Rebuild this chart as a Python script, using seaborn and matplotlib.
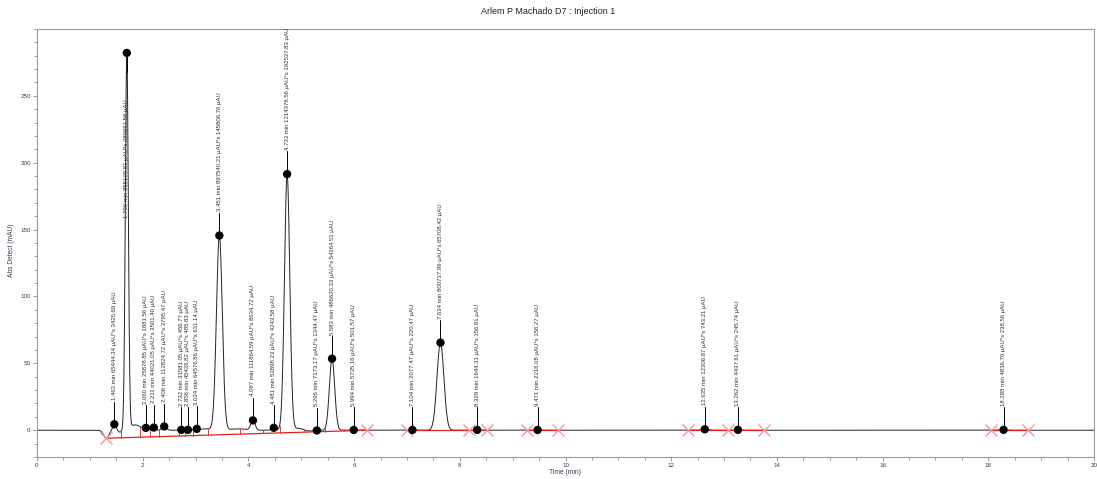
"""
Chromatogram: Arlem P Machado D7, injection 1
"""

import matplotlib
matplotlib.use("Agg")
import matplotlib.pyplot as plt
from matplotlib.ticker import MultipleLocator
import seaborn as sns
import numpy as np
import pandas as pd

# peaks: retention time (min), apex height (mAU), width (sigma, min)
peak_rt = [1.463, 1.700, 2.060, 2.211, 2.408, 2.732, 2.856, 3.024, 3.451, 4.087, 4.481,
           4.733, 5.296, 5.583, 5.994, 7.104, 7.634, 8.329, 9.471, 12.635, 13.262, 18.288]
peak_h = [4.5, 281.0, 1.2, 2.0, 2.8, 0.3, 0.3, 0.8, 145.5, 7.2, 1.8,
          191.5, 0.0, 53.5, 0.2, 0.2, 65.5, 0.2, 0.2, 0.7, 0.3, 0.3]
peak_w = [0.03, 0.028, 0.035, 0.035, 0.04, 0.035, 0.035, 0.04, 0.055, 0.04, 0.04,
          0.05, 0.05, 0.05, 0.05, 0.05, 0.065, 0.05, 0.05, 0.06, 0.05, 0.05]
peak_labels = [
    "1.463 min 65444.34 µAU*s 3425.69 µAU",
    "1.700 min 855109.81 µAU*s 280661.58 µAU",
    "2.060 min 25878.85 µAU*s 1881.56 µAU",
    "2.211 min 44021.05 µAU*s 3501.40 µAU",
    "2.408 min 112824.72 µAU*s 3795.47 µAU",
    "2.732 min 31581.05 µAU*s 456.77 µAU",
    "2.856 min 45426.82 µAU*s 485.83 µAU",
    "3.024 min 64576.86 µAU*s 631.14 µAU",
    "3.451 min 897540.21 µAU*s 145806.76 µAU",
    "4.087 min 111864.59 µAU*s 8634.72 µAU",
    "4.481 min 53898.23 µAU*s 4243.58 µAU",
    "4.733 min 1214378.56 µAU*s 192537.83 µAU",
    "5.296 min 7173.17 µAU*s 1344.47 µAU",
    "5.583 min 486620.33 µAU*s 54264.51 µAU",
    "5.994 min 5735.16 µAU*s 501.57 µAU",
    "7.104 min 2077.47 µAU*s 220.47 µAU",
    "7.634 min 800737.99 µAU*s 65708.42 µAU",
    "8.329 min 1644.31 µAU*s 156.81 µAU",
    "9.471 min 2216.08 µAU*s 156.27 µAU",
    "12.635 min 12306.87 µAU*s 743.21 µAU",
    "13.262 min 4437.61 µAU*s 245.74 µAU",
    "18.288 min 4836.70 µAU*s 238.56 µAU",
]

# baseline disturbances seen in the trace (dip before the solvent front, tails, humps)
bump_rt = [1.31, 1.57, 1.86, 3.20, 3.80, 4.95, 5.15]
bump_h = [-6.0, -1.5, 4.0, 1.0, 1.0, 1.5, -0.6]
bump_w = [0.05, 0.03, 0.10, 0.10, 0.15, 0.08, 0.10]

# integration marks (red crosses) and baseline segments
cross_t = [1.31, 6.25, 7.01, 8.18, 8.52, 9.28, 9.85, 12.31, 13.07, 13.75, 18.05, 18.75]
cross_y = [-6.0, 0, 0, 0, 0, 0, 0, 0, 0, 0, 0, 0]
base_start = [1.31, 7.01, 8.18, 9.28, 12.31, 13.07, 18.05]
base_end = [6.25, 8.18, 8.52, 9.85, 13.07, 13.75, 18.75]
drop_t = [1.59, 1.95, 2.14, 2.31, 2.68, 2.80, 2.95, 3.24, 3.85, 4.28, 4.59, 5.05, 5.45, 5.80]

title = "Arlem P Machado D7 : Injection 1"

# build trace from the peak table
t = np.linspace(0, 20, 8001)
signal = np.zeros_like(t)
for rt, h, w in zip(peak_rt + bump_rt, peak_h + bump_h, peak_w + bump_w):
    signal += h * np.exp(-0.5 * ((t - rt) / w) ** 2)
trace = pd.DataFrame({"time": t, "signal": signal})


def baseline(x):
    return np.interp(x, [cross_t[0], cross_t[1]], [cross_y[0], cross_y[1]])


sns.set_theme(style="white")
plt.rcParams["font.family"] = ["Liberation Sans", "DejaVu Sans"]

fig, ax = plt.subplots(figsize=(10.97, 4.79), dpi=100)
fig.subplots_adjust(left=0.0337, right=0.9973, top=0.9395, bottom=0.046)

sns.lineplot(data=trace, x="time", y="signal", color="#222222", linewidth=0.7, ax=ax)

# red baselines and drop lines
red = "#e02020"
for s, e in zip(base_start, base_end):
    ax.plot([s, e], [baseline(s) if s == cross_t[0] else 0, baseline(e) if s == cross_t[0] else 0],
            color=red, linewidth=0.9, zorder=3)
for d in drop_t:
    ax.plot([d, d], [baseline(d), np.interp(d, t, signal)], color=red, linewidth=0.6, zorder=3)
ax.plot(cross_t, cross_y, linestyle="none", marker="x", markersize=8, mew=1.0,
        color="#f29a9a", zorder=4)

# apex dots, leaders and rotated labels
apex_y = np.interp(peak_rt, t, signal)
peaks = pd.DataFrame({"rt": peak_rt, "apex": apex_y})
sns.scatterplot(data=peaks, x="rt", y="apex", color="black", s=36, edgecolor="none",
                zorder=5, ax=ax, legend=False)
label_base_override = {1: 159.0}
for i, (rt, y, lab) in enumerate(zip(peak_rt, apex_y, peak_labels)):
    if i in label_base_override:
        base = label_base_override[i]
        ax.plot([rt, rt], [y, y - 14], color="black", linewidth=0.7, zorder=4)
    else:
        base = y + 18
        ax.plot([rt, rt], [y, base - 1], color="black", linewidth=0.7, zorder=4)
    ax.text(rt, base, lab, rotation=90, ha="center", va="bottom", fontsize=4.3,
            color="#333333", zorder=6)

ax.set_xlim(0, 20)
ax.set_ylim(-20, 300)
ax.xaxis.set_major_locator(MultipleLocator(2))
ax.xaxis.set_minor_locator(MultipleLocator(0.5))
ax.yaxis.set_major_locator(MultipleLocator(50))
ax.yaxis.set_minor_locator(MultipleLocator(10))
ax.set_yticks([0, 50, 100, 150, 200, 250])
ax.yaxis.set_minor_locator(MultipleLocator(10))
ax.tick_params(axis="both", which="both", direction="out", color="#888888",
               bottom=True, left=True, labelsize=4.5, labelcolor="#3a3a55", pad=1.5)
ax.tick_params(which="major", length=3, width=0.6)
ax.tick_params(which="minor", length=2, width=0.6)
for sp in ax.spines.values():
    sp.set_color("#9a9a9a")
    sp.set_linewidth(0.8)
ax.set_xlabel("")
ax.set_ylabel("")

fig.text(0.5, 0.975, title, ha="center", va="center", fontsize=6.5, color="#222222")
fig.text(565 / 1097, 0.0146, "Time (min)", ha="center", va="center", fontsize=4.8,
         color="#3a3a55")
fig.text(12 / 1097, 0.478, "Abs Detect (mAU)", ha="center", va="center", rotation=90,
         fontsize=4.8, color="#3a3a55")

fig.savefig("out.png", dpi=100)
